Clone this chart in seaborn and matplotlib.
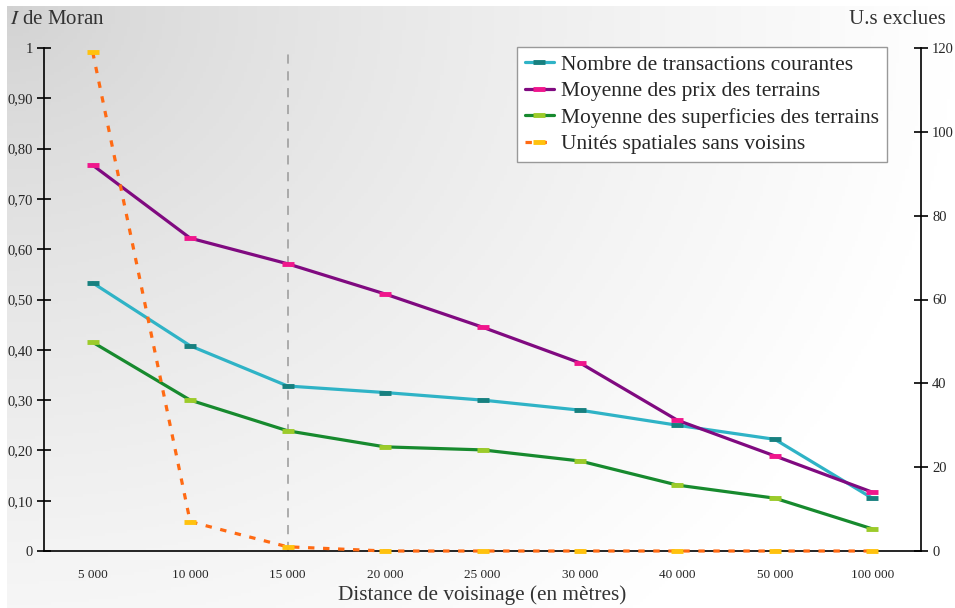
import matplotlib.pyplot as plt
import matplotlib.ticker as mticker
import seaborn as sns
import pandas as pd
import numpy as np

distances = ['5 000', '10 000', '15 000', '20 000', '25 000', '30 000', '40 000', '50 000', '100 000']
transactions = [0.533, 0.408, 0.328, 0.315, 0.300, 0.280, 0.250, 0.222, 0.105]
prix = [0.767, 0.622, 0.571, 0.511, 0.445, 0.374, 0.260, 0.189, 0.117]
superficies = [0.415, 0.300, 0.239, 0.207, 0.201, 0.179, 0.131, 0.105, 0.044]
sans_voisins = [119, 7, 1, 0, 0, 0, 0, 0, 0]

left_ticks = [0, 0.1, 0.2, 0.3, 0.4, 0.5, 0.6, 0.7, 0.8, 0.9, 1]
left_labels = ['0', '0,10', '0,20', '0,30', '0,40', '0,50', '0,60', '0,70', '0,80', '0,90', '1']
right_ticks = [0, 20, 40, 60, 80, 100, 120]

df = pd.DataFrame({
    'distance': distances,
    'transactions': transactions,
    'prix': prix,
    'superficies': superficies,
    'sans_voisins': sans_voisins,
})

sns.set_style('white')
plt.rcParams['font.family'] = ['Liberation Serif', 'DejaVu Serif']
plt.rcParams['mathtext.fontset'] = 'stix'

fig = plt.figure(figsize=(9.55, 6.08), dpi=100)

# gradient background
bg = fig.add_axes([0, 0, 1, 1], zorder=-10)
gx, gy = np.meshgrid(np.linspace(0, 1, 300), np.linspace(0, 1, 200))
d = np.sqrt((gx * 1.0) ** 2 + (gy * 0.75) ** 2)
shade = 0.82 + 0.18 * np.clip(d / 1.0, 0, 1) ** 0.75
rgb = np.dstack([shade, shade, shade])
bg.imshow(rgb, extent=[7 / 955, 1, 0, 1 - 6 / 608], aspect='auto', origin='upper')
bg.set_xlim(0, 1)
bg.set_ylim(0, 1)
bg.axis('off')

ax = fig.add_axes([44 / 955, 57 / 608, 877 / 955, 503 / 608])
ax.patch.set_alpha(0)
ax2 = ax.twinx()

series = [
    ('transactions', 'Nombre de transactions courantes', '#2fb3c6', '#17807f'),
    ('prix', 'Moyenne des prix des terrains', '#800a80', '#f0168c'),
    ('superficies', 'Moyenne des superficies des terrains', '#178a2e', '#9ccb2a'),
]
for col, label, lc, mc in series:
    sns.lineplot(data=df, x='distance', y=col, ax=ax, sort=False, color=lc,
                 linewidth=2.3, marker='_', markersize=9, markeredgewidth=3.5,
                 markeredgecolor=mc, label=label, legend=False)

ax2.plot(df['distance'], df['sans_voisins'], color='#ff6a13', linewidth=2.3,
         linestyle=(0, (2.0, 2.7)), marker='_', markersize=9, markeredgewidth=3.5,
         markeredgecolor='#ffc20e', label='Unités spatiales sans voisins', clip_on=False)

ax.axvline(distances.index('15 000'), color='#999999', linewidth=1.1,
           linestyle=(0, (6, 5)), zorder=0)

ax.set_xlim(-0.5, len(distances) - 0.5)
ax.set_ylim(0, 1)
ax2.set_ylim(0, 120)

ax.set_yticks(left_ticks)
ax.set_yticklabels(left_labels, fontsize=10.5)
ax2.set_yticks(right_ticks)
ax2.set_yticklabels([str(t) for t in right_ticks], fontsize=10.5)

ax.set_xticks(range(len(distances)))
ax.set_xticklabels(distances, fontsize=9.5)
ax.xaxis.set_minor_locator(mticker.FixedLocator(np.arange(0.5, len(distances) - 1, 1)))
ax.tick_params(axis='x', which='major', length=0, pad=13)
ax.tick_params(axis='x', which='minor', direction='inout', length=10, width=1.2, color='black')
ax.tick_params(axis='y', direction='inout', length=10, width=1.2, color='black', pad=3, left=True)
ax2.tick_params(axis='y', direction='inout', length=10, width=1.2, color='black', pad=3, right=True)

for a in (ax, ax2):
    a.spines['top'].set_visible(False)
    for s in ('left', 'right', 'bottom'):
        a.spines[s].set_color('black')
        a.spines[s].set_linewidth(1.2)
ax.spines['right'].set_visible(False)
ax2.spines['left'].set_visible(False)
ax2.spines['bottom'].set_visible(False)

ax.set_xlabel('Distance de voisinage (en mètres)', fontsize=15.3, color='#333333', labelpad=3)
ax.set_ylabel('')
ax2.set_ylabel('')

fig.text(10 / 955, 1 - 20 / 608, r'$I$ de Moran', fontsize=15, color='#333333', va='center', ha='left')
fig.text(946 / 955, 1 - 20 / 608, 'U.s exclues', fontsize=15, color='#333333', va='center', ha='right')

h1, l1 = ax.get_legend_handles_labels()
h2, l2 = ax2.get_legend_handles_labels()
leg = ax2.legend(h1 + h2, l1 + l2, loc='upper right', bbox_to_anchor=(843 / 877, 1.002),
                 fontsize=15.5, frameon=True, fancybox=False, framealpha=1,
                 edgecolor='#999999', facecolor='white', handlelength=1.35,
                 handletextpad=0.35, borderpad=0.35, labelspacing=0.3, borderaxespad=0)
leg.get_frame().set_linewidth(1.0)
leg.set_zorder(20)

fig.savefig('out.png', dpi=100)
